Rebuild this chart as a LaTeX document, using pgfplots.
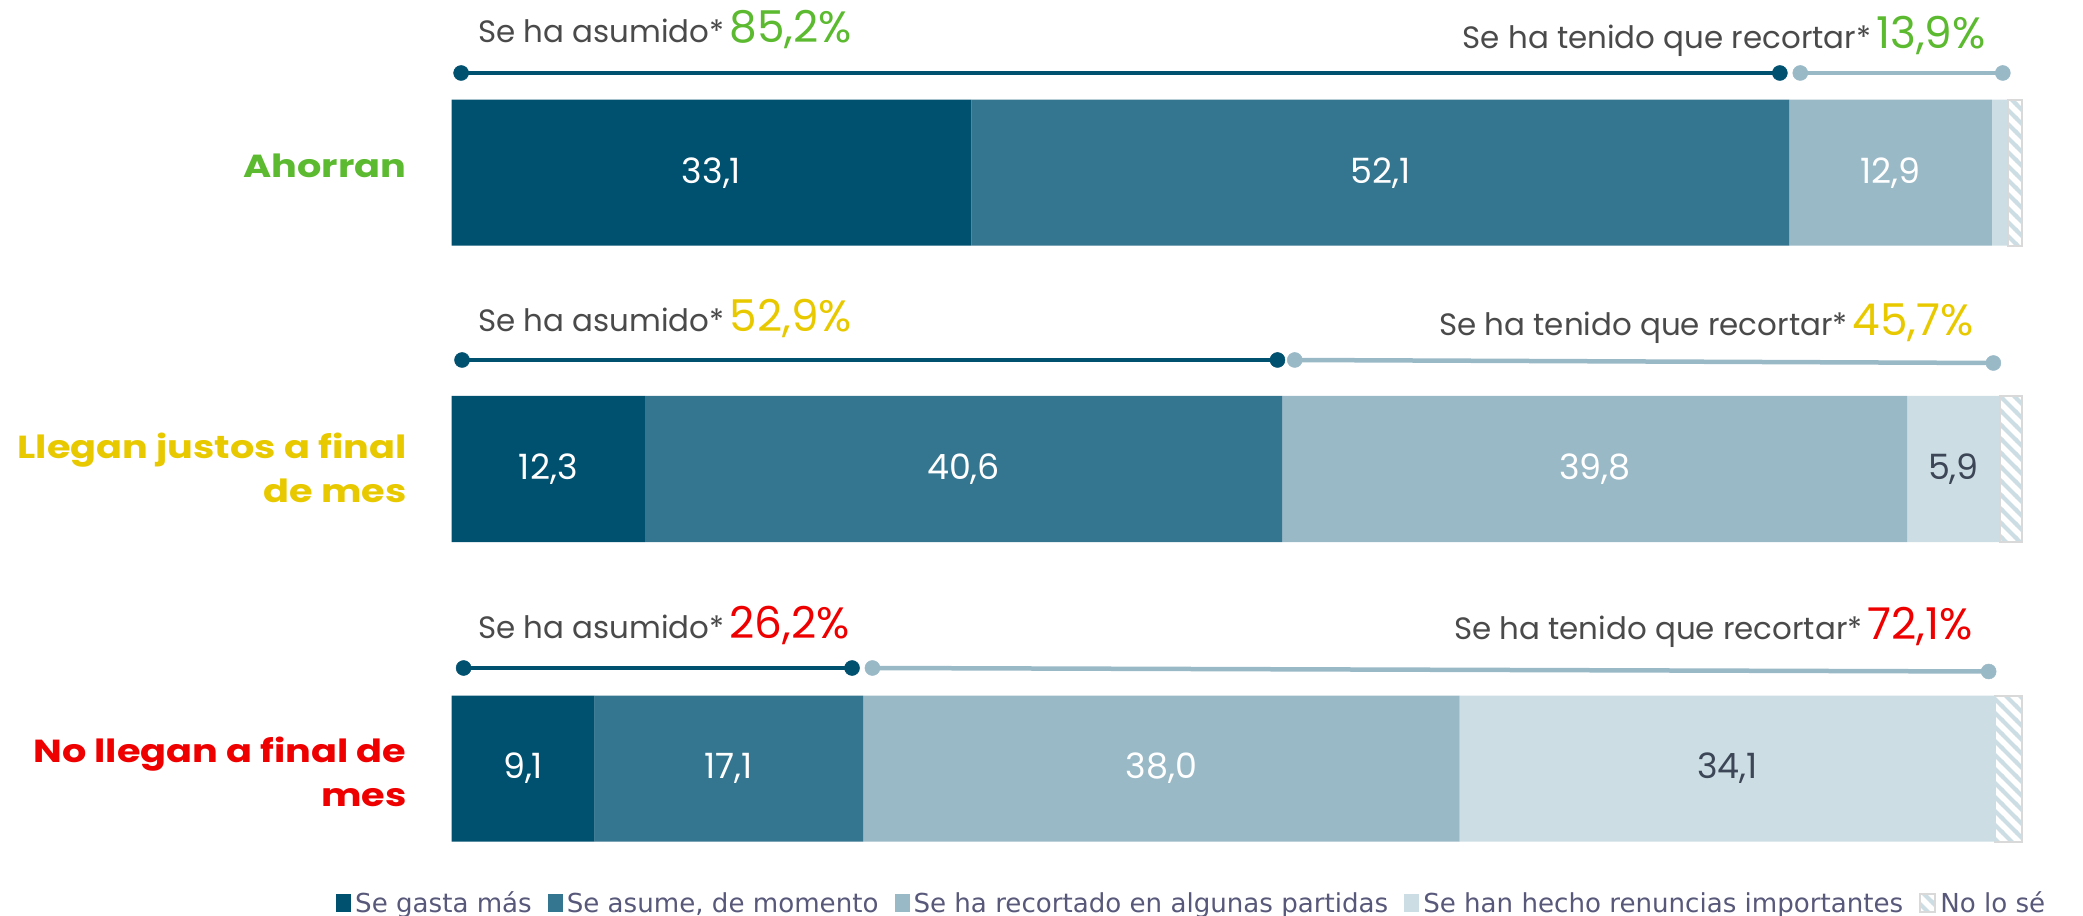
\documentclass[border=0pt]{standalone}
\usepackage{fontspec}
\setmainfont{Poppins}
\newfontfamily\catfont[FakeStretch=1.2]{Poppins}
\newfontfamily\legfont{DejaVu Sans}
\usepackage{pgfplots}
\pgfplotsset{compat=1.18}
\usetikzlibrary{patterns}
\pgfdeclarepatternformonly{hatch}{\pgfqpoint{-1bp}{-1bp}}{\pgfqpoint{15bp}{15bp}}{\pgfqpoint{14bp}{14bp}}{%
  \pgfsetlinewidth{4bp}%
  \pgfpathmoveto{\pgfqpoint{-1bp}{15bp}}\pgfpathlineto{\pgfqpoint{15bp}{-1bp}}%
  \pgfpathmoveto{\pgfqpoint{-1bp}{1bp}}\pgfpathlineto{\pgfqpoint{1bp}{-1bp}}%
  \pgfpathmoveto{\pgfqpoint{13bp}{15bp}}\pgfpathlineto{\pgfqpoint{15bp}{13bp}}%
  \pgfusepath{stroke}}
\definecolor{c1}{HTML}{00506F}
\definecolor{c2}{HTML}{34758F}
\definecolor{c3}{HTML}{99B9C7}
\definecolor{c4}{HTML}{CCDDE3}
\definecolor{tgray}{HTML}{4A4A4A}
\definecolor{vdark}{HTML}{3C4656}
\definecolor{lgray}{HTML}{58587A}
\definecolor{cgreen}{HTML}{5BBA2F}
\definecolor{cyellow}{HTML}{E8C900}
\definecolor{cred}{HTML}{EE0000}
\pgfplotsset{
  myaxis/.style={
    at={(0bp,0bp)}, anchor=south west,
    scale only axis, width=2083bp, height=916bp,
    xmin=-28.77, xmax=103.91, ymin=0, ymax=916, y dir=reverse,
    hide axis, clip=false,
  }
}
\newcommand{\lab}[3]{{\fontsize{31}{36}\selectfont\color{tgray}#1*\,}{\fontsize{44}{50}\selectfont\color{#2}#3}}
\begin{document}
\begin{tikzpicture}[x=1bp,y=1bp]
\useasboundingbox (0,0) rectangle (2083,916);
% bars
\begin{axis}[myaxis,
  xbar stacked, bar width=146,
  legend image code/.code={\path[#1] (0bp,-9bp) rectangle (15bp,9bp);},
  legend style={at={(0.1613,0.0142)}, anchor=west, draw=none, fill=none,
    inner sep=0pt, legend columns=5,
    nodes={inner sep=1bp},
    font=\legfont\fontsize{26.2}{30}\selectfont, text=lgray,
    /tikz/every odd column/.append style={column sep=3bp},
    /tikz/every even column/.append style={column sep=15bp}},
]
\addplot[fill=c1, draw=none] coordinates {(33.1,172.7) (12.3,469) (9.1,768.5)};
\addlegendentry{Se gasta más}
\addplot[fill=c2, draw=none] coordinates {(52.1,172.7) (40.6,469) (17.1,768.5)};
\addlegendentry{Se asume, de momento}
\addplot[fill=c3, draw=none] coordinates {(12.9,172.7) (39.8,469) (38.0,768.5)};
\addlegendentry{Se ha recortado en algunas partidas}
\addplot[fill=c4, draw=none] coordinates {(1.0,172.7) (5.9,469) (34.1,768.5)};
\addlegendentry{Se han hecho renuncias importantes}
\addplot[draw=black!15, line width=2bp, pattern=hatch, pattern color=c4] coordinates {(0.9,172.7) (1.4,469) (1.7,768.5)};
\addlegendentry{No lo sé}
\end{axis}
% bracket lines
\begin{axis}[myaxis]
\addplot[c1, line width=4.5bp, mark=*, mark size=7.5bp, mark options={fill=c1, line width=0.5bp}] coordinates {(0.6,73) (84.6,73)};
\addplot[c3, line width=4.5bp, mark=*, mark size=7.5bp, mark options={fill=c3, line width=0.5bp}] coordinates {(85.9,73) (98.8,73)};
\addplot[c1, line width=4.5bp, mark=*, mark size=7.5bp, mark options={fill=c1, line width=0.5bp}] coordinates {(0.66,360) (52.6,360)};
\addplot[c3, line width=4.5bp, mark=*, mark size=7.5bp, mark options={fill=c3, line width=0.5bp}] coordinates {(53.7,360) (98.2,363)};
\addplot[c1, line width=4.5bp, mark=*, mark size=7.5bp, mark options={fill=c1, line width=0.5bp}] coordinates {(0.76,668) (25.5,668)};
\addplot[c3, line width=4.5bp, mark=*, mark size=7.5bp, mark options={fill=c3, line width=0.5bp}] coordinates {(26.8,668) (97.9,671.5)};
\end{axis}
% value labels
\begin{scope}[every node/.style={font=\fontsize{35}{40}\selectfont, text=white, anchor=center}]
\node at (711.5,743.3) {33,1};
\node at (1380.4,743.3) {52,1};
\node at (1890.6,743.3) {12,9};
\node at (548.3,447) {12,3};
\node at (963.5,447) {40,6};
\node at (1594.7,447) {39,8};
\node[text=vdark] at (1953.4,447) {5,9};
\node at (523.1,147.5) {9,1};
\node at (728.8,147.5) {17,1};
\node at (1161.3,147.5) {38,0};
\node[text=vdark] at (1727.3,147.5) {34,1};
\end{scope}
% category labels
\begin{scope}[every node/.style={font=\catfont\bfseries\fontsize{32}{44}\selectfont, anchor=east, align=right}]
\node[text=cgreen] at (410,750) {Ahorran};
\node[text=cyellow] at (410,448) {Llegan justos a final\\de mes};
\node[text=cred] at (410,144) {No llegan a final de\\mes};
\end{scope}
% bracket texts
\begin{scope}[every node/.style={inner sep=0pt}]
\node[anchor=base west] at (478,873) {\lab{Se ha asumido}{cgreen}{85,2\%}};
\node[anchor=base east] at (1986,867) {\lab{Se ha tenido que recortar}{cgreen}{13,9\%}};
\node[anchor=base west] at (478,584) {\lab{Se ha asumido}{cyellow}{52,9\%}};
\node[anchor=base east] at (1974,580) {\lab{Se ha tenido que recortar}{cyellow}{45,7\%}};
\node[anchor=base west] at (478,277) {\lab{Se ha asumido}{cred}{26,2\%}};
\node[anchor=base east] at (1973,276) {\lab{Se ha tenido que recortar}{cred}{72,1\%}};
\end{scope}
\end{tikzpicture}
\end{document}
